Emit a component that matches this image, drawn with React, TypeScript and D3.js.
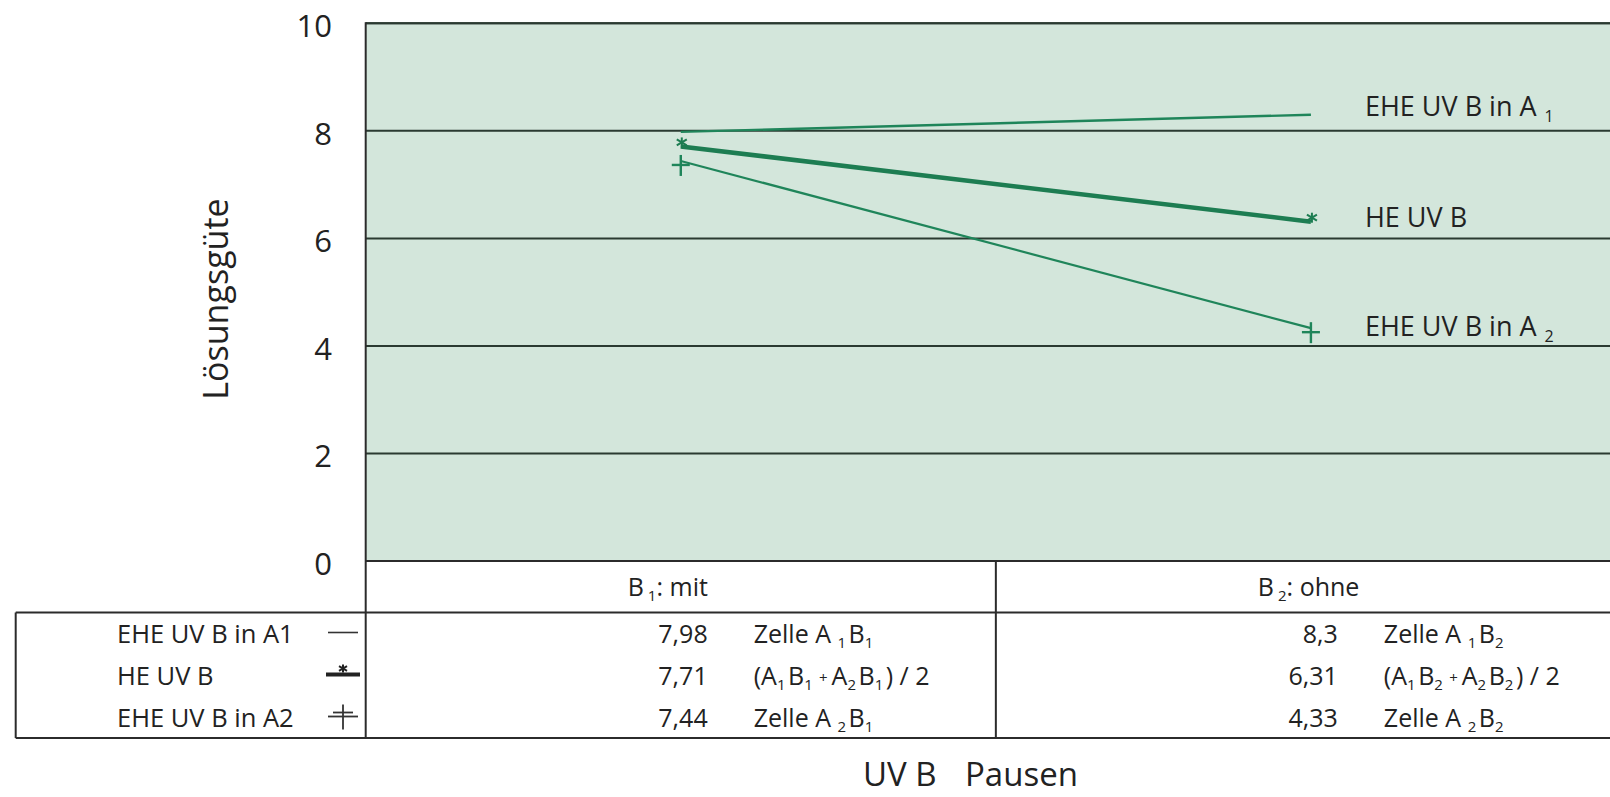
import React from "react";
import * as d3 from "d3";

// ---- data ----
const categories = ["B1", "B2"];
const categoryIndex = ["1", "2"];
const categoryNames = ["mit", "ohne"];
const seriesNames = ["EHE UV B in A1", "HE UV B", "EHE UV B in A2"];
const seriesPlotLabels = ["EHE UV B in A", "HE UV B", "EHE UV B in A"];
const seriesPlotSubs = ["1", "", "2"];
const a1Values = [7.98, 8.3];
const heValues = [7.71, 6.31];
const a2Values = [7.44, 4.33];
const yTicks = [0, 2, 4, 6, 8, 10];
const yTitle = "Lösungsgüte";
const xTitleA = "UV B";
const xTitleB = "Pausen";

const W = 1610;
const H = 797;
const FONT = "'Open Sans', 'Noto Sans', sans-serif";

export default function App() {
  const plotLeft = 365.7;
  const plotRight = 1626;
  const plotTop = 23.3;
  const plotBottom = 561;
  const headerBottom = 612.5;
  const tableBottom = 738;
  const tableLeft = 15.7;

  const y = d3.scaleLinear().domain([0, 10]).range([plotBottom, plotTop]);
  const x = d3.scaleBand().domain(categories).range([plotLeft, plotRight]).padding(0);
  const cx = (i: number) => (x(categories[i]) as number) + x.bandwidth() / 2;
  const line = d3
    .line<number>()
    .x((_, i) => cx(i))
    .y((v) => y(v));

  const series = [a1Values, heValues, a2Values];
  const lineColor = "#1f855a";
  const gridColor = "#2a3a31";
  const tableColor = "#2b2b2b";

  const rowBaselines = [642.5, 684.5, 726.5];
  const fmt = (v: number) => String(v).replace(".", ",");

  let keyCounter = 0;
  const sub = (t: string, size = 15, shift = 5) => [
    <tspan key={"s" + keyCounter++} dy={shift} fontSize={size}>
      {t}
    </tspan>,
    <tspan key={"r" + keyCounter++} dy={-shift}>
      {"\u200A"}
    </tspan>,
  ];

  const cellText = (row: number, col: number) => {
    const b = categoryIndex[col];
    if (row === 0 || row === 2) {
      const a = row === 0 ? "1" : "2";
      return (
        <>
          {"Zelle A "}
          {sub(a)}
          {"B"}
          {sub(b)}
        </>
      );
    }
    return (
      <>
        {"(A"}
        {sub("1")}
        {"B"}
        {sub(b)}
        <tspan fontSize={15} dy={-2}>
          {" + "}
        </tspan>
        <tspan dy={2}>{"A"}</tspan>
        {sub("2")}
        {"B"}
        {sub(b)}
        {") / 2"}
      </>
    );
  };

  const asterisk = (px: number, py: number, r: number, color: string, key: string) => (
    <g key={key} stroke={color} strokeWidth={2}>
      <line x1={px} y1={py - r} x2={px} y2={py + r} />
      <line x1={px - r} y1={py - r * 0.6} x2={px + r} y2={py + r * 0.6} />
      <line x1={px - r} y1={py + r * 0.6} x2={px + r} y2={py - r * 0.6} />
    </g>
  );

  return (
    <svg
      width={W}
      height={H}
      style={{ position: "absolute", left: 0, top: 0, background: "#fff" }}
      fontFamily={FONT}
    >
      {/* plot background */}
      <rect x={plotLeft} y={plotTop} width={plotRight - plotLeft} height={plotBottom - plotTop} fill="#d3e6db" />

      {/* gridlines */}
      {yTicks.map((t) => (
        <line key={"g" + t} x1={plotLeft} x2={plotRight} y1={y(t)} y2={y(t)} stroke={gridColor} strokeWidth={2} />
      ))}

      {/* y tick labels */}
      {yTicks.map((t) => (
        <text key={"t" + t} x={332} y={y(t) + 14} textAnchor="end" fontSize={31} fill="#222">
          {t}
        </text>
      ))}

      {/* y title */}
      <text transform={`translate(228,299) rotate(-90)`} textAnchor="middle" fontSize={34} fill="#222">
        {yTitle}
      </text>

      {/* lines */}
      <path d={line(a1Values) || ""} fill="none" stroke={lineColor} strokeWidth={2.4} />
      <path d={line(a2Values) || ""} fill="none" stroke={lineColor} strokeWidth={2.2} />
      <path d={line(heValues) || ""} fill="none" stroke="#1d7d52" strokeWidth={4.5} />

      {/* markers HE */}
      {heValues.map((v, i) => asterisk(cx(i) + 1, y(v) - 4, 5, "#1d7d52", "he" + i))}
      {/* markers A2 */}
      {a2Values.map((v, i) => (
        <g key={"a2" + i} stroke={lineColor} strokeWidth={2.4}>
          <line x1={cx(i)} x2={cx(i)} y1={y(v) - 6} y2={y(v) + 15} />
          <line x1={cx(i) - 9} x2={cx(i) + 9} y1={y(v) + 4} y2={y(v) + 4} />
        </g>
      ))}

      {/* series labels in plot */}
      {series.map((vals, k) => (
        <text
          key={"lab" + k}
          x={cx(1) + 54}
          y={y(vals[1]) + 1 + (k === 1 ? 4 : 0) + (k === 2 ? 7 : 0)}
          fontSize={27}
          fill="#222"
        >
          {seriesPlotLabels[k]}
          {seriesPlotSubs[k] && (
            <tspan dx={8} dy={6} fontSize={16}>
              {seriesPlotSubs[k]}
            </tspan>
          )}
        </text>
      ))}

      {/* axis frame */}
      <line x1={plotLeft} x2={plotRight} y1={plotTop} y2={plotTop} stroke={gridColor} strokeWidth={2} />
      <line x1={plotLeft} x2={plotLeft} y1={plotTop - 1} y2={tableBottom} stroke={tableColor} strokeWidth={2} />

      {/* table */}
      <line x1={plotLeft} x2={plotRight} y1={plotBottom} y2={plotBottom} stroke={tableColor} strokeWidth={2} />
      <line x1={tableLeft} x2={plotRight} y1={headerBottom} y2={headerBottom} stroke={tableColor} strokeWidth={2} />
      <line x1={tableLeft} x2={plotRight} y1={tableBottom} y2={tableBottom} stroke={tableColor} strokeWidth={2} />
      <line x1={tableLeft} x2={tableLeft} y1={headerBottom} y2={tableBottom} stroke={tableColor} strokeWidth={2} />
      {categories.slice(1).map((c) => (
        <line key={"div" + c} x1={x(c) as number} x2={x(c) as number} y1={plotBottom} y2={tableBottom} stroke={tableColor} strokeWidth={2} />
      ))}

      {/* header */}
      {categories.map((c, j) => (
        <text key={"h" + c} x={(x(c) as number) + 262} y={596} fontSize={25} fill="#222">
          {"B"}
          <tspan dx={4} dy={5} fontSize={15}>
            {categoryIndex[j]}
          </tspan>
          <tspan dy={-5}>{j === 0 ? ":  " + categoryNames[j] : ": " + categoryNames[j]}</tspan>
        </text>
      ))}

      {/* table legend labels */}
      {seriesNames.map((n, k) => (
        <text key={"ln" + k} x={117} y={rowBaselines[k]} fontSize={25.5} fill="#222">
          {n}
        </text>
      ))}
      {/* legend symbols */}
      <line x1={328} x2={358} y1={rowBaselines[0] - 10} y2={rowBaselines[0] - 10} stroke="#333" strokeWidth={1.6} />
      <line x1={326} x2={360} y1={rowBaselines[1] - 10} y2={rowBaselines[1] - 10} stroke="#222" strokeWidth={4} />
      {asterisk(343, rowBaselines[1] - 16, 4, "#222", "legast")}
      <g stroke="#333" strokeWidth={1.8}>
        <line x1={328} x2={358} y1={rowBaselines[2] - 10} y2={rowBaselines[2] - 10} />
        <line x1={333} x2={353} y1={rowBaselines[2] - 14} y2={rowBaselines[2] - 14} />
        <line x1={343} x2={343} y1={rowBaselines[2] - 22} y2={rowBaselines[2] + 3} />
      </g>

      {/* table cells */}
      {categories.map((c, j) =>
        series.map((vals, k) => (
          <g key={"cell" + j + k}>
            <text x={(x(c) as number) + 342} y={rowBaselines[k]} textAnchor="end" fontSize={25} fill="#222">
              {fmt(vals[j])}
            </text>
            <text x={(x(c) as number) + 388} y={rowBaselines[k]} fontSize={25} fill="#222">
              {cellText(k, j)}
            </text>
          </g>
        ))
      )}

      {/* x title */}
      <text x={863} y={786} fontSize={33} fill="#222">
        {xTitleA}
      </text>
      <text x={965} y={786} fontSize={33} fill="#222">
        {xTitleB}
      </text>
    </svg>
  );
}
